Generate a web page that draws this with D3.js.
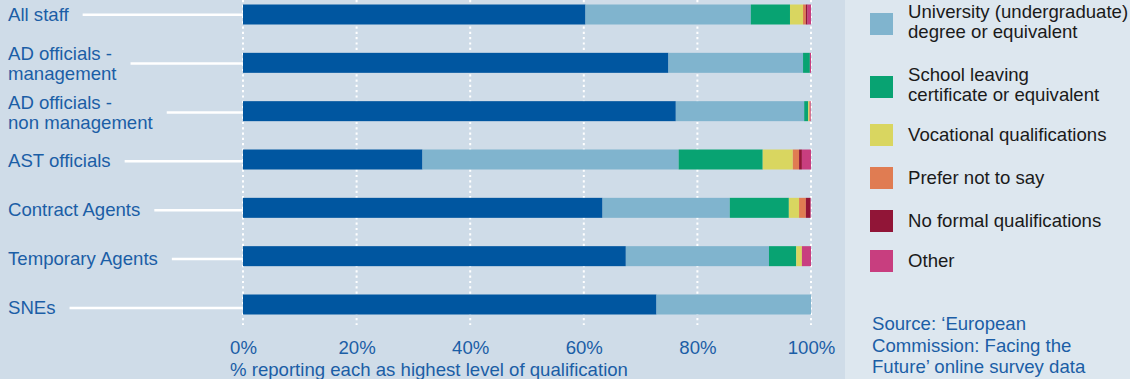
<!DOCTYPE html>
<html>
<head>
<meta charset="utf-8">
<script src="https://cdn.jsdelivr.net/npm/d3@7"></script>
<style>
  body { margin: 0; background: #cfdce8; }
  svg { display: block; font-family: "Liberation Sans", Arial, Helvetica, sans-serif; }
</style>
</head>
<body>
<div id="chart"></div>
<script>
// categories (rows, top to bottom) - label lines as shown
var categories = ["All staff", "AD officials - management", "AD officials - non management",
                  "AST officials", "Contract Agents", "Temporary Agents", "SNEs"];
var labelLines = [["All staff"], ["AD officials -", "management"], ["AD officials -", "non management"],
                  ["AST officials"], ["Contract Agents"], ["Temporary Agents"], ["SNEs"]];

// % reporting each as highest level of qualification
var postgrad   = [60.3, 74.9, 76.2, 31.6, 63.3, 67.4, 72.8];
var undergrad  = [29.1, 23.7, 22.6, 45.1, 22.4, 25.2, 27.2];
var school     = [6.9, 1.2, 0.7, 14.8, 10.4, 4.8, 0];
var vocational = [2.3, 0, 0.2, 5.3, 1.8, 1.0, 0];
var preferNot  = [0.5, 0, 0.2, 1.1, 1.2, 0, 0];
var noFormal   = [0.3, 0, 0, 0.5, 0.8, 0, 0];
var other      = [0.6, 0.2, 0.1, 1.6, 0.1, 1.6, 0];

var seriesKeys = ["postgrad", "undergrad", "school", "vocational", "preferNot", "noFormal", "other"];
var colors = ["#0056a0", "#80b4ce", "#08a372", "#d9d660", "#e07c52", "#911537", "#c83e7f"];

// legend entries visible in the picture
var legendKeys = ["undergrad", "school", "vocational", "preferNot", "noFormal", "other"];
var legendLines = [["University (undergraduate)", "degree or equivalent"],
                   ["School leaving", "certificate or equivalent"],
                   ["Vocational qualifications"], ["Prefer not to say"],
                   ["No formal qualifications"], ["Other"]];
var xTicks = [0, 20, 40, 60, 80, 100];
var xTitle = "% reporting each as highest level of qualification";
var sourceLines = ["Source: \u2018European", "Commission: Facing the", "Future\u2019 online survey data"];

var width = 1130, height = 379;
var panelW = 845;
var blue = "#1b5ea6";
var fs = "18.6px";

var table = categories.map(function(c, i) {
    return {cat: c, postgrad: postgrad[i], undergrad: undergrad[i], school: school[i],
            vocational: vocational[i], preferNot: preferNot[i], noFormal: noFormal[i], other: other[i]};
});
var stacked = d3.stack().keys(seriesKeys)(table);

var color = d3.scaleOrdinal().domain(seriesKeys).range(colors);

var xScale = d3.scaleLinear().domain([0, 100]).range([243, 811]);
var yBar = d3.scalePoint().domain(categories).range([14.5, 304.5]);
var yLab = d3.scalePoint().domain(categories).range([14.7, 308]);
var barH = 20;

var svg = d3.select("#chart").append("svg")
    .attr("width", width)
    .attr("height", height);

svg.append("rect").attr("x", 0).attr("y", 0).attr("width", panelW).attr("height", height)
    .style("fill", "#cfdce8");
svg.append("rect").attr("x", panelW).attr("y", 0).attr("width", width - panelW).attr("height", height)
    .style("fill", "#dde7ef");

// dotted gridlines
svg.selectAll(".grid")
    .data(xTicks).enter().append("line")
    .attr("class", "grid")
    .attr("x1", function(d) { return xScale(d); })
    .attr("x2", function(d) { return xScale(d); })
    .attr("y1", 0)
    .attr("y2", 325)
    .style("stroke", "#ffffff")
    .style("stroke-width", 2)
    .style("stroke-dasharray", "2.2,3.1");

// stacked bars
svg.selectAll(".series")
    .data(stacked).enter().append("g")
    .attr("class", "series")
    .style("fill", function(d) { return color(d.key); })
    .selectAll("rect")
    .data(function(d) { return d; }).enter().append("rect")
    .attr("x", function(d) { return xScale(d[0]); })
    .attr("y", function(d) { return yBar(d.data.cat) - barH / 2; })
    .attr("width", function(d) { return Math.max(0, xScale(d[1]) - xScale(d[0])); })
    .attr("height", barH);

// row labels with connector lines
var rows = svg.selectAll(".row")
    .data(categories).enter().append("g")
    .attr("class", "row");

rows.each(function(c, i) {
    var g = d3.select(this);
    var yl = yLab(c);
    var lines = labelLines[i];
    var t = g.append("text")
        .style("fill", blue)
        .style("font-size", fs);
    var base = lines.length > 1 ? yl - 3.5 : yl + 6;
    lines.forEach(function(s, k) {
        t.append("tspan").attr("x", 8).attr("y", base + k * 20).text(s);
    });
    var maxW = 0;
    t.selectAll("tspan").each(function() {
        maxW = Math.max(maxW, this.getComputedTextLength());
    });
    g.append("line")
        .attr("x1", 8 + maxW + 14)
        .attr("x2", xScale(0))
        .attr("y1", yl)
        .attr("y2", yl)
        .style("stroke", "#ffffff")
        .style("stroke-width", 2.5);
});

// x axis
var xAxis = d3.axisBottom(xScale)
    .tickValues(xTicks)
    .tickSize(0)
    .tickFormat(function(d) { return d + "%"; });

var ax = svg.append("g")
    .attr("class", "xAxis")
    .attr("transform", "translate(0, 353.5)")
    .call(xAxis);
ax.select(".domain").remove();
ax.selectAll("text")
    .attr("y", 0)
    .attr("dy", null)
    .style("fill", blue)
    .style("font-size", fs)
    .style("font-family", "\"Liberation Sans\", Arial, sans-serif");

svg.append("text")
    .attr("x", 230)
    .attr("y", 376)
    .style("fill", blue)
    .style("font-size", fs)
    .text(xTitle);

// legend
var legendTop = [13, 76, 124, 167, 210, 250];
var legend = svg.selectAll(".legend")
    .data(legendKeys).enter().append("g")
    .attr("class", "legend");

legend.append("rect")
    .attr("x", 870)
    .attr("y", function(d, i) { return legendTop[i]; })
    .attr("width", 23)
    .attr("height", 22)
    .style("fill", function(d) { return color(d); });

legend.each(function(d, i) {
    var lines = legendLines[i];
    var cy = legendTop[i] + 11;
    var base = lines.length > 1 ? cy - 6 : cy + 6;
    var t = d3.select(this).append("text")
        .style("fill", "#1a1a1a")
        .style("font-size", fs);
    lines.forEach(function(s, k) {
        t.append("tspan").attr("x", 908).attr("y", base + k * 20).text(s);
    });
});

var src = svg.append("text")
    .style("fill", blue)
    .style("font-size", fs);
sourceLines.forEach(function(s, k) {
    src.append("tspan").attr("x", 872).attr("y", 330 + k * 21.7).text(s);
});
</script>
</body>
</html>
